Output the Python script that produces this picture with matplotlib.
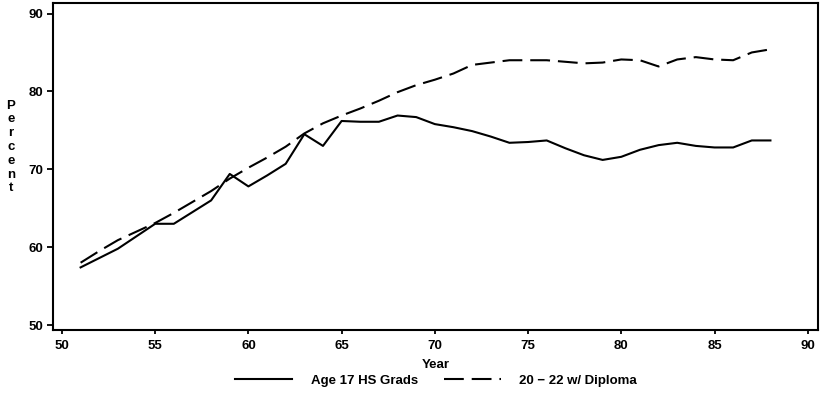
import matplotlib.pyplot as plt
import numpy as np

plt.rcParams['font.family'] = ['Liberation Sans', 'DejaVu Sans']
plt.rcParams['font.size'] = 9.5
plt.rcParams['font.weight'] = 'bold'
plt.rcParams['axes.labelweight'] = 'bold'

years = np.arange(51, 89)

hs_grads = [57.4, 58.6, 59.8, 61.4, 63.0, 63.0, 64.5, 66.0, 69.4, 67.8,
            69.2, 70.7, 74.5, 73.0, 76.2, 76.1, 76.1, 76.9, 76.7, 75.8,
            75.4, 74.9, 74.2, 73.4, 73.5, 73.7, 72.7, 71.8, 71.2, 71.6,
            72.5, 73.1, 73.4, 73.0, 72.8, 72.8, 73.7, 73.7]

diploma = [58.0, 59.5, 60.9, 62.0, 63.1, 64.4, 65.8, 67.2, 68.8, 70.2,
           71.5, 72.9, 74.6, 75.9, 76.9, 77.8, 78.8, 79.9, 80.8, 81.5,
           82.3, 83.4, 83.7, 84.0, 84.0, 84.0, 83.8, 83.6, 83.7, 84.1,
           84.0, 83.2, 84.1, 84.4, 84.1, 84.0, 85.0, 85.4]

xticks = [50, 55, 60, 65, 70, 75, 80, 85, 90]
yticks = [50, 60, 70, 80, 90]

fig = plt.figure(figsize=(8.23, 3.94), dpi=100)
ax = fig.add_axes([0.0644, 0.1624, 0.9295, 0.83])

ax.plot(years, hs_grads, color='black', lw=1.5, label='Age 17 HS Grads')
dash, = ax.plot(years, diploma, color='black', lw=1.5, label='20 \u2212 22 w/ Diploma')
dash.set_dashes((9.5, 3.8))

ax.set_xlim(49.52, 90.55)
ax.set_ylim(49.36, 91.35)
ax.set_xticks(xticks)
ax.set_yticks(yticks)
for s in ax.spines.values():
    s.set_linewidth(1.5)
ax.tick_params(axis='y', direction='out', length=4, width=1.3, pad=3, labelsize=9.5)
ax.tick_params(axis='x', direction='out', length=3, width=1.3, pad=4, labelsize=9.5)

ax.set_xlabel('Year', fontsize=9.5, labelpad=5)
fig.text(0.013, 0.627, 'P\ne\nr\nc\ne\nn\nt', ha='center', va='center',
         fontsize=9.5, linespacing=1.2)

fig.legend(loc='center', bbox_to_anchor=(0.53, 0.033), ncol=2, frameon=False,
           handlelength=4.3, handletextpad=1.4, columnspacing=2.0, fontsize=9.5)

fig.savefig('out.png', dpi=100)
